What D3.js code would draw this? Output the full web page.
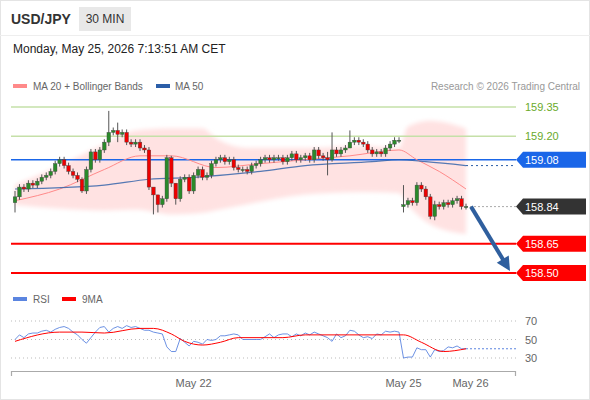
<!DOCTYPE html><html><head><meta charset="utf-8"><script src="https://d3js.org/d3.v7.min.js"></script>
<style>body{margin:0;background:#fff;font-family:"Liberation Sans",Arial,sans-serif}</style></head><body><svg id="c" width="590" height="400"></svg>
<script>
const closes=[158.89,158.94,158.93,158.96,158.95,158.97,158.99,159.00,159.02,159.06,159.08,159.05,159.02,159.00,158.98,158.92,159.03,159.12,159.08,159.13,159.17,159.22,159.23,159.21,159.22,159.17,159.16,159.17,159.14,159.13,158.94,158.90,158.85,158.88,159.09,158.96,158.88,158.98,158.99,158.92,159.00,159.03,158.99,159.00,159.06,159.08,159.09,159.07,159.08,159.04,159.03,159.03,159.02,159.05,159.06,159.08,159.09,159.08,159.09,159.09,159.07,159.09,159.11,159.08,159.09,159.10,159.08,159.13,159.10,159.09,159.08,159.13,159.11,159.13,159.14,159.17,159.18,159.17,159.16,159.13,159.11,159.12,159.11,159.14,159.16,159.18,159.18,
158.85,158.87,158.86,158.95,158.93,158.89,158.79,158.85,158.84,158.86,158.85,158.87,158.88,158.84,158.84];
const sessionStarts={0:158.86,87:158.84};
const extremes={0:[158.92,158.81],15:[158.99,158.91],21:[159.33,159.15],23:[159.27,159.17],31:[158.93,158.80],32:[158.90,158.81],35:[159.10,158.94],36:[158.96,158.85],71:[159.22,159.07],75:[159.23,159.15],70:[159.12,159.00],87:[158.95,158.81],94:[158.87,158.77]};
const ma20=[[0,158.87],[10,158.93],[20,159.03],[28,159.10],[35,159.10],[45,159.04],[55,159.06],[65,159.08],[75,159.10],[86,159.13],[90,159.08],[95,159.02],[101,158.93]];
const ma50=[[0,158.93],[20,158.95],[30,158.98],[40,158.99],[55,159.02],[65,159.05],[80,159.07],[86,159.08],[92,159.07],[101,159.05]];
const bbUp=[[0,158.95],[10,159.05],[20,159.16],[27,159.23],[35,159.24],[42,159.24],[45,159.19],[52,159.14],[65,159.14],[78,159.15],[86,159.14],[88,159.25],[93,159.28],[101,159.24]];
const bbLo=[[0,158.85],[10,158.83],[18,158.81],[24,158.84],[32,158.80],[40,158.80],[47,158.83],[56,158.87],[70,158.92],[86,158.91],[88,158.85],[93,158.75],[98,158.71],[101,158.70]];
const rsi=[50,55,52,56,57,57,59,60,58,61,63,64,62,58,55,50,46,52,58,63,64,58,62,64,62,65,63,64,62,60,60,58,57,56,42,37,37,51,47,43,48,47,45,50,49,50,54,54,55,56,55,50,50,50,50,50,53,56,52,55,56,56,53,56,54,57,55,58,56,54,52,48,56,52,54,60,59,55,52,53,51,56,55,59,58,59,58,30,31,31,41,39,39,31,39,37,38,42,41,43,40,40];
const rsiMa=[[0,48],[10,58],[15,58],[20,57],[28,62],[31,62],[35,56],[38,48],[42,44],[46,47],[50,52],[60,52],[65,55],[75,55],[87,55],[91,47],[96,37],[101,40]];
const levels=[{v:159.35,c:"#6aaa2a",t:"line"},{v:159.20,c:"#6aaa2a",t:"line"},{v:159.08,c:"#1a66e8",t:"tag"},{v:158.84,c:"#333",t:"tag"},{v:158.65,c:"#f00",t:"tag"},{v:158.50,c:"#f00",t:"tag"}];
const dates=[{i:40,t:"May 22"},{i:87,t:"May 25"},{i:102,t:"May 26"}];
const rsiTicks=[70,50,30];

const svg=d3.select("#c");
svg.append("rect").attr("x",0.5).attr("y",0.5).attr("width",589).attr("height",399).attr("fill","#fff").attr("stroke","#e4e4e4");
svg.append("text").attr("x",11).attr("y",24).attr("font-size",14).attr("font-weight","bold").attr("fill","#333").text("USD/JPY");
svg.append("rect").attr("x",79).attr("y",7).attr("width",52).attr("height",24).attr("fill","#e8e8e8");
svg.append("text").attr("x",105).attr("y",23).attr("text-anchor","middle").attr("font-size",12).attr("fill","#333").text("30 MIN");
svg.append("line").attr("x1",0).attr("x2",590).attr("y1",35.5).attr("y2",35.5).attr("stroke","#eee");
svg.append("text").attr("x",13).attr("y",53).attr("font-size",12).attr("fill","#222").text("Monday, May 25, 2026 7:13:51 AM CET");
svg.append("rect").attr("x",13).attr("y",84).attr("width",14).attr("height",4).attr("fill","#ff8a8a");
svg.append("text").attr("x",33).attr("y",90).attr("font-size",10).attr("fill","#666").text("MA 20 + Bollinger Bands");
svg.append("rect").attr("x",156).attr("y",84).attr("width",14).attr("height",4).attr("fill","#2b5ea8");
svg.append("text").attr("x",175).attr("y",90).attr("font-size",10).attr("fill","#666").text("MA 50");
svg.append("text").attr("x",580).attr("y",90).attr("text-anchor","end").attr("font-size",10).attr("fill","#999").text("Research © 2026 Trading Central");

const x=d3.scaleLinear().domain([0,101]).range([15,466]);
const y=d3.scaleLinear().domain([158.50,159.35]).range([273,107]);
const xl=p=>x(p[0]), yl=p=>y(p[1]);
const defs=svg.append("defs");
defs.append("filter").attr("id","bl").append("feGaussianBlur").attr("stdDeviation",2);
svg.append("path").datum(bbUp.map(p=>[p[0],p[1]]))
 .attr("d",d3.area().x(xl).y0((d,i)=>y(d3.scaleLinear().domain(bbLo.map(q=>q[0])).range(bbLo.map(q=>q[1]))(d[0]))).y1(yl).curve(d3.curveMonotoneX))
 .attr("fill","#ffe2e2").attr("filter","url(#bl)");
levels.forEach(l=>{
  const yy=y(l.v);
  if(l.t==="line"){
    svg.append("line").attr("x1",11).attr("x2",516).attr("y1",yy).attr("y2",yy).attr("stroke","#c5e0a8").attr("stroke-width",1.5);
    svg.append("text").attr("x",525).attr("y",yy+4).attr("font-size",11).attr("fill",l.c).text(l.v.toFixed(2));
  } else {
    if(l.c==="#f00") svg.append("line").attr("x1",11).attr("x2",516).attr("y1",yy).attr("y2",yy).attr("stroke","#f00").attr("stroke-width",2);
    if(l.c==="#1a66e8") svg.append("line").attr("x1",11).attr("x2",516).attr("y1",yy).attr("y2",yy).attr("stroke","#1a66e8").attr("stroke-width",1.3);
    if(l.c==="#333") svg.append("line").attr("x1",x(101)).attr("x2",516).attr("y1",yy).attr("y2",yy).attr("stroke","#aaa").attr("stroke-dasharray","2,2");
    svg.append("path").attr("d",`M516,${yy}L523,${yy-8}H586V${yy+8}H523Z`).attr("fill",l.c);
    svg.append("text").attr("x",525).attr("y",yy+4).attr("font-size",11).attr("fill","#fff").text(l.v.toFixed(2));
  }
});
const ln=d3.line().x(xl).y(yl).curve(d3.curveMonotoneX);
svg.append("path").datum(ma20).attr("d",ln).attr("fill","none").attr("stroke","#ff8a8a").attr("stroke-width",1);
svg.append("path").datum(ma50).attr("d",ln).attr("fill","none").attr("stroke","#2b5ea8").attr("stroke-width",1.2).attr("opacity",0.8);
svg.append("line").attr("x1",x(101)).attr("x2",516).attr("y1",y(ma50[ma50.length-1][1])).attr("y2",y(ma50[ma50.length-1][1])).attr("stroke","#2b5ea8").attr("stroke-dasharray","2,3");
closes.forEach((c,i)=>{
  const o=sessionStarts[i]!==undefined?sessionStarts[i]:closes[i-1];
  const e=extremes[i]||[Math.max(o,c)+0.015,Math.min(o,c)-0.015];
  const col=c>=o?"#2a8a2a":"#e00";
  svg.append("line").attr("x1",x(i)).attr("x2",x(i)).attr("y1",y(e[0])).attr("y2",y(e[1])).attr("stroke","#555");
  const t=Math.min(y(o),y(c)),h=Math.max(1,Math.abs(y(o)-y(c)));
  svg.append("rect").attr("x",x(i)-1.8).attr("y",t).attr("width",3.6).attr("height",h).attr("fill",col).attr("stroke","#444").attr("stroke-width",0.4);
});
const ax1=x(101)+5,ay1=y(158.84),ax2=510,ay2=y(158.51);
const ang=Math.atan2(ay2-ay1,ax2-ax1);
svg.append("line").attr("x1",ax1).attr("y1",ay1).attr("x2",ax2-10*Math.cos(ang)).attr("y2",ay2-10*Math.sin(ang)).attr("stroke","#2f5f9e").attr("stroke-width",4);
const hp=[[ax2,ay2],[ax2-14*Math.cos(ang)+7*Math.sin(ang),ay2-14*Math.sin(ang)-7*Math.cos(ang)],[ax2-14*Math.cos(ang)-7*Math.sin(ang),ay2-14*Math.sin(ang)+7*Math.cos(ang)]];
svg.append("path").attr("d","M"+hp.join("L")+"Z").attr("fill","#2f5f9e");
svg.append("rect").attr("x",13).attr("y",297).attr("width",14).attr("height",4).attr("fill","#5b85e0");
svg.append("text").attr("x",33).attr("y",303).attr("font-size",10).attr("fill","#666").text("RSI");
svg.append("rect").attr("x",62).attr("y",297).attr("width",14).attr("height",4).attr("fill","#f00");
svg.append("text").attr("x",82).attr("y",303).attr("font-size",10).attr("fill","#666").text("9MA");
const yr=d3.scaleLinear().domain([30,70]).range([358,321]);
rsiTicks.forEach(t=>{
  svg.append("line").attr("x1",11).attr("x2",516).attr("y1",yr(t)).attr("y2",yr(t)).attr("stroke","#bbb").attr("stroke-dasharray","1,3");
  svg.append("text").attr("x",525).attr("y",yr(t)+4).attr("font-size",11).attr("fill","#666").text(t);
});
svg.append("path").datum(rsi).attr("d",d3.line().x((d,i)=>x(i)).y(d=>yr(d))).attr("fill","none").attr("stroke","#5b85e0").attr("stroke-width",0.9);
svg.append("line").attr("x1",x(101)).attr("x2",516).attr("y1",yr(rsi[rsi.length-1])).attr("y2",yr(rsi[rsi.length-1])).attr("stroke","#5b85e0").attr("stroke-dasharray","2,2");
svg.append("path").datum(rsiMa).attr("d",d3.line().x(xl).y(p=>yr(p[1])).curve(d3.curveMonotoneX)).attr("fill","none").attr("stroke","#f00").attr("stroke-width",1);
svg.append("path").attr("d","M11.5,376V371.5H515.5V376").attr("fill","none").attr("stroke","#aaa").attr("stroke-width",1.2);
dates.forEach(d=>svg.append("text").attr("x",x(d.i)).attr("y",387).attr("text-anchor","middle").attr("font-size",11).attr("fill","#666").text(d.t));
</script></body></html>
